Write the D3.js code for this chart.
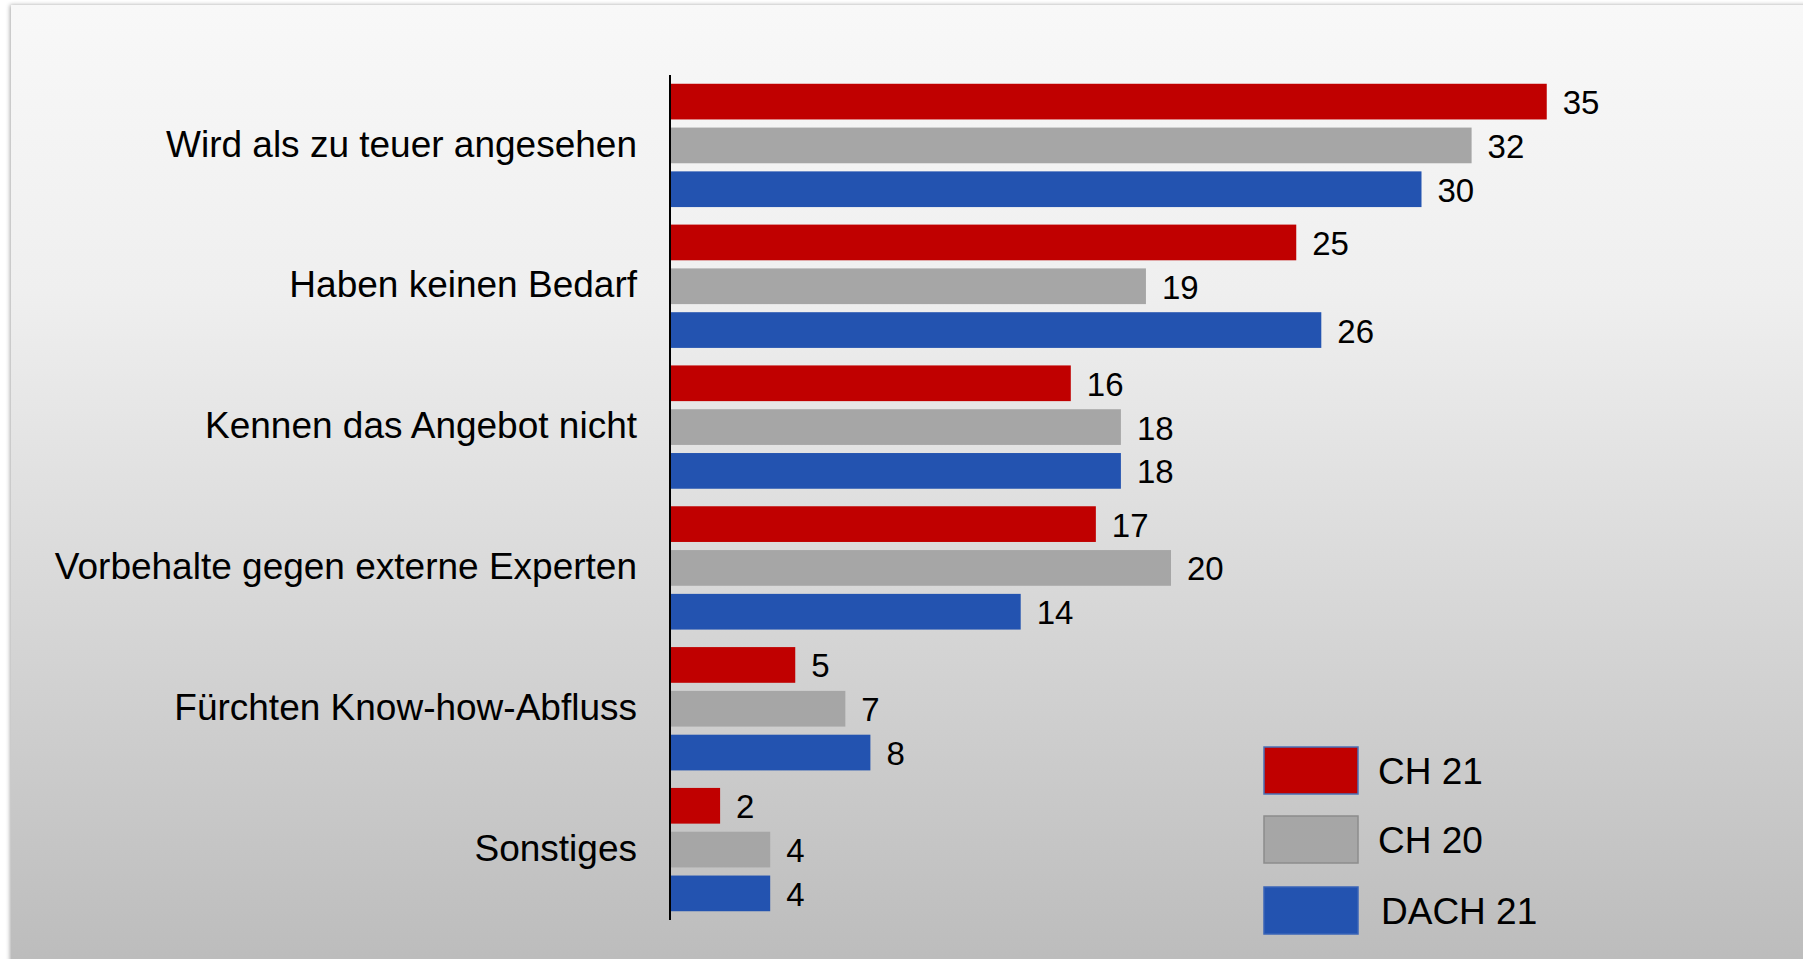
<!DOCTYPE html>
<html>
<head>
<meta charset="utf-8">
<script src="https://cdn.jsdelivr.net/npm/d3@7"></script>
<style>
  html, body { margin: 0; padding: 0; background: #ffffff; }
  svg { display: block; }
  text { font-family: "Liberation Sans", Arial, sans-serif; fill: #000; }
</style>
</head>
<body>
<script>
const categories = ["Wird als zu teuer angesehen", "Haben keinen Bedarf", "Kennen das Angebot nicht", "Vorbehalte gegen externe Experten", "Fürchten Know-how-Abfluss", "Sonstiges"];
const seriesNames = ["CH 21", "CH 20", "DACH 21"];
const ch21 = [35, 25, 16, 17, 5, 2];
const ch20 = [32, 19, 18, 20, 7, 4];
const dach21 = [30, 26, 18, 14, 8, 4];
const seriesColors = ["#c00000", "#a6a6a6", "#2353b0"];
const seriesStrokes = ["#4a6fb5", "#8c8c8c", "#3a64b8"];

const W = 1803, H = 959;
const svg = d3.select("body").append("svg").attr("width", W).attr("height", H);

const defs = svg.append("defs");
const grad = defs.append("linearGradient").attr("id", "bg").attr("x1", 0).attr("y1", 0).attr("x2", 0).attr("y2", 1);
grad.append("stop").attr("offset", "0%").attr("stop-color", "#f8f8f8");
grad.append("stop").attr("offset", "30%").attr("stop-color", "#efefef");
grad.append("stop").attr("offset", "100%").attr("stop-color", "#bcbcbc");
const sh = defs.append("filter").attr("id", "shadow").attr("x", -0.05).attr("y", -0.05).attr("width", 1.1).attr("height", 1.1);
sh.append("feDropShadow").attr("dx", -1).attr("dy", 0).attr("stdDeviation", 2).attr("flood-color", "#000").attr("flood-opacity", 0.35);

svg.append("rect").attr("x", 11).attr("y", 5).attr("width", W).attr("height", H)
  .attr("fill", "url(#bg)").attr("filter", "url(#shadow)");

const x = d3.scaleLinear().domain([0, 40]).range([670, 670 + 25.05 * 40]);
const y = d3.scaleBand().domain(categories).range([75, 920]).padding(0);
const yi = d3.scaleBand().domain(seriesNames).range([0, y.bandwidth()]).paddingInner(0.185).paddingOuter(0.2);

const data = categories.map((c, i) => ({
  cat: c,
  vals: [
    { s: seriesNames[0], v: ch21[i], k: 0 },
    { s: seriesNames[1], v: ch20[i], k: 1 },
    { s: seriesNames[2], v: dach21[i], k: 2 }
  ]
}));

const groups = svg.append("g").selectAll("g").data(data).join("g")
  .attr("transform", d => `translate(0,${y(d.cat)})`);

groups.selectAll("rect").data(d => d.vals).join("rect")
  .attr("x", x(0))
  .attr("y", d => yi(d.s))
  .attr("width", d => x(d.v) - x(0))
  .attr("height", yi.bandwidth())
  .attr("fill", d => seriesColors[d.k]);

groups.selectAll("text.val").data(d => d.vals).join("text")
  .attr("class", "val")
  .attr("x", d => x(d.v) + 16)
  .attr("y", d => yi(d.s) + yi.bandwidth() / 2)
  .attr("dy", "0.38em")
  .attr("font-size", 33)
  .text(d => d.v);

// category axis
const yAxis = d3.axisLeft(y).tickSize(0).tickPadding(33);
const ag = svg.append("g").attr("transform", `translate(${x(0)},0)`).call(yAxis);
ag.select(".domain").attr("stroke", "#000").attr("stroke-width", 2).attr("d", `M0,75V920`);
ag.selectAll(".tick text").attr("font-size", 37).attr("font-family", "Liberation Sans, Arial, sans-serif").attr("fill", "#000").attr("dy", "0.3em");

// legend
const legY = [747, 816, 887];
const leg = svg.append("g");
seriesNames.forEach((s, i) => {
  leg.append("rect").attr("x", 1264).attr("y", legY[i]).attr("width", 94).attr("height", 47)
    .attr("fill", seriesColors[i]).attr("stroke", seriesStrokes[i]).attr("stroke-width", 1.5);
  leg.append("text").attr("x", i === 2 ? 1381 : 1378).attr("y", legY[i] + 24).attr("dy", "0.36em")
    .attr("font-size", 37).text(s);
});
</script>
</body>
</html>
